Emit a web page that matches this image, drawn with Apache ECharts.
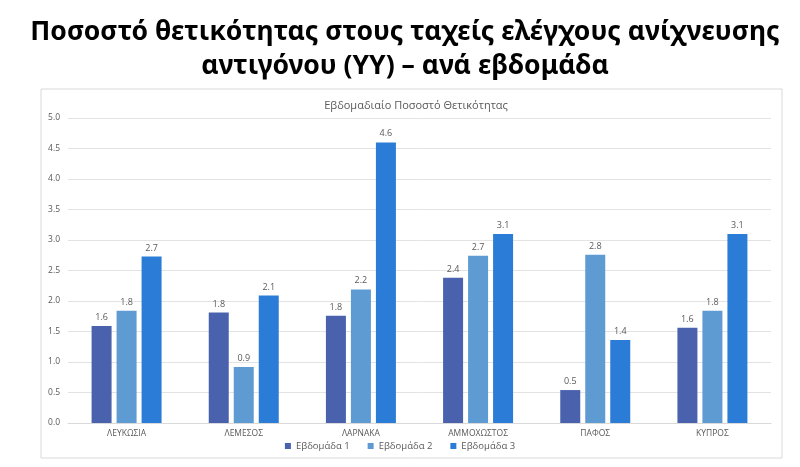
<!DOCTYPE html>
<html>
<head>
<meta charset="utf-8">
<script src="https://cdn.jsdelivr.net/npm/echarts@6/dist/echarts.min.js"></script>
<style>
  html, body { margin: 0; padding: 0; background: #fff; }
  #chart { width: 800px; height: 467px; }
</style>
</head>
<body>
<div id="chart"></div>
<script>
// δεδομένα
const categories = ['ΛΕΥΚΩΣΙΑ', 'ΛΕΜΕΣΟΣ', 'ΛΑΡΝΑΚΑ', 'ΑΜΜΟΧΩΣΤΟΣ', 'ΠΑΦΟΣ', 'ΚΥΠΡΟΣ']
const week1 = [1.59, 1.81, 1.76, 2.38, 0.54, 1.56]
const week2 = [1.84, 0.92, 2.19, 2.74, 2.76, 1.84]
const week3 = [2.73, 2.09, 4.6, 3.1, 1.36, 3.1]
const seriesNames = ['Εβδομάδα 1', 'Εβδομάδα 2', 'Εβδομάδα 3']
const colors = ['#4a62ae', '#5e9bd3', '#2b7cd6']

const labelStyle = {
  show: true,
  position: 'top',
  distance: 4,
  color: '#595959',
  fontSize: 9,
  fontFamily: 'Open Sans',
  formatter: p => p.value.toFixed(1)
}

const makeSeries = (name, data, i) => ({
  name: name,
  type: 'bar',
  data: data,
  barWidth: 20,
  barGap: '25%',
  itemStyle: { color: colors[i] },
  label: labelStyle
})

const chart = echarts.init(document.getElementById('chart'))
chart.setOption({
  animation: false,
  backgroundColor: '#fff',
  title: [
    {
      text: 'Ποσοστό θετικότητας στους ταχείς ελέγχους ανίχνευσης\nαντιγόνου (ΥΥ) – ανά εβδομάδα',
      left: 400,
      top: 10,
      textAlign: 'center',
      textStyle: {
        fontFamily: 'Noto Sans',
        fontWeight: 'bold',
        fontSize: 26.5,
        lineHeight: 34,
        color: '#000'
      }
    },
    {
      text: 'Εβδομαδιαίο Ποσοστό Θετικότητας',
      left: 411,
      top: 95,
      textAlign: 'center',
      textStyle: {
        fontFamily: 'Open Sans',
        fontWeight: 'normal',
        fontSize: 11,
        color: '#595959'
      }
    }
  ],
  graphic: [
    {
      type: 'rect',
      shape: { x: 41, y: 89, width: 741, height: 369 },
      style: { fill: 'none', stroke: '#d9d9d9', lineWidth: 1 },
      silent: true
    }
  ],
  legend: {
    data: seriesNames,
    bottom: 11,
    left: 'center',
    icon: 'rect',
    itemWidth: 6,
    itemHeight: 6,
    itemGap: 18,
    textStyle: { color: '#595959', fontSize: 9.5, fontFamily: 'Open Sans' }
  },
  grid: { left: 68, right: 29, top: 118, bottom: 44 },
  xAxis: {
    type: 'category',
    data: categories,
    axisTick: { show: false },
    axisLine: { lineStyle: { color: '#d9d9d9' } },
    axisLabel: { color: '#595959', fontSize: 8.5, fontFamily: 'Open Sans', margin: 6 }
  },
  yAxis: {
    type: 'value',
    min: 0,
    max: 5,
    interval: 0.5,
    axisLine: { show: false },
    axisTick: { show: false },
    splitLine: { lineStyle: { color: '#e3e3e3' } },
    axisLabel: {
      color: '#595959',
      fontSize: 8.5,
      fontFamily: 'Open Sans',
      margin: 8,
      formatter: v => v.toFixed(1)
    }
  },
  series: [
    makeSeries(seriesNames[0], week1, 0),
    makeSeries(seriesNames[1], week2, 1),
    makeSeries(seriesNames[2], week3, 2)
  ]
})
</script>
</body>
</html>
